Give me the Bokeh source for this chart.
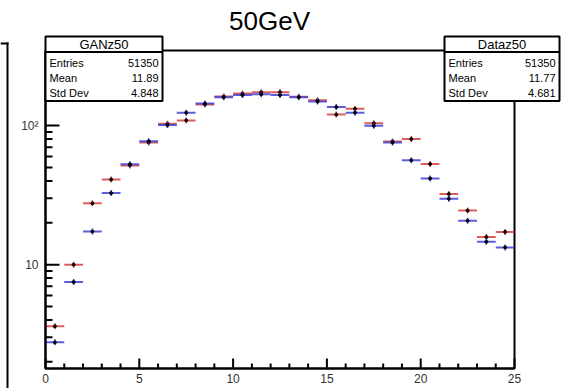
import math
from bokeh.plotting import figure
from bokeh.models import (BoxAnnotation, Label, SingleIntervalTicker, LogTicker,
                          ColumnDataSource, GridBox)
from bokeh.embed import file_html
from bokeh.resources import INLINE

# Bin contents of the two z-profiles (25 unit-width bins from 0 to 25)
bin_low = list(range(25))
gan_counts = [3.6, 10.0, 27.6, 41.0, 51.7, 75.6, 103.0, 109.0, 142.0, 162.0,
              170.0, 174.0, 174.0, 161.0, 152.0, 120.0, 132.0, 104.0, 77.0, 80.0,
              53.0, 32.2, 24.5, 15.8, 17.2]
data_counts = [2.76, 7.5, 17.3, 32.7, 52.8, 77.3, 101.0, 124.0, 144.0, 160.0,
               166.0, 168.0, 166.0, 160.0, 149.0, 136.0, 124.0, 99.7, 75.6, 56.4,
               41.7, 29.8, 20.7, 14.6, 13.3]

# axis tick values
x_major = [0, 5, 10, 15, 20, 25]
x_minor = [v for v in range(26) if v % 5]
y_major = [10, 100]
y_minor = [2, 3, 4, 5, 6, 7, 8, 9, 20, 30, 40, 50, 60, 70, 80, 90, 200, 300]

gan_stats = [("Entries", "51350"), ("Mean", "11.89"), ("Std Dev", "4.848")]
data_stats = [("Entries", "51350"), ("Mean", "11.77"), ("Std Dev", "4.681")]

FONT = "Liberation Sans"
RED = "#d84040"
BLUE = "#4040d8"
X0, X1 = 0, 25
Y0, Y1 = 1.79, 347
W, H = 570, 388
BORDER_L, BORDER_R, BORDER_T, BORDER_B = 45, 56, 50, 20

p = figure(width=W, height=H, y_axis_type="log", x_range=(X0, X1),
           y_range=(Y0, Y1), output_backend="svg", toolbar_location=None,
           title=None, min_border_left=BORDER_L, min_border_right=BORDER_R,
           min_border_top=BORDER_T, min_border_bottom=BORDER_B)
p.frame_align = False
p.background_fill_color = "white"
p.border_fill_color = "white"
p.outline_line_color = "black"
p.outline_line_width = 2
p.xgrid.visible = False
p.ygrid.visible = False


def draw_hist(counts, color):
    src = ColumnDataSource(dict(
        x0=bin_low,
        x1=[b + 1 for b in bin_low],
        xc=[b + 0.5 for b in bin_low],
        y=counts,
    ))
    p.segment(x0="x0", x1="x1", y0="y", y1="y", source=src,
              line_color=color, line_width=2, line_alpha=0.85)
    p.scatter(x="xc", y="y", source=src, marker="dash", angle=1.5708,
              size=6, line_color=color, line_width=1.5)
    p.scatter(x="xc", y="y", source=src, marker="circle", size=3,
              fill_color="black", line_color="black")


draw_hist(gan_counts, RED)
draw_hist(data_counts, BLUE)

xa = p.xaxis[0]
xa.ticker = SingleIntervalTicker(interval=5, num_minor_ticks=5)
ya = p.yaxis[0]
ya.ticker = LogTicker(num_minor_ticks=10)
ya.major_label_overrides = {10: "10", 100: "10\u00b2"}
for ax in (xa, ya):
    ax.axis_line_width = 2
    ax.axis_line_color = "black"
    ax.major_tick_in = 0
    ax.major_tick_out = 0
    ax.minor_tick_in = 0
    ax.minor_tick_out = 0
    ax.major_label_text_font = FONT
    ax.major_label_text_font_size = "12px"
    ax.major_label_text_color = "#333333"
xa.major_label_standoff = 5
ya.major_label_standoff = 7

# transparent overlay spanning the whole canvas: title, stat boxes, inward ticks
ov = figure(width=W, height=H, x_range=(0, W), y_range=(H, 0),
            output_backend="svg", toolbar_location=None, title=None,
            x_axis_location=None, y_axis_location=None,
            min_border=0, min_border_left=0, min_border_right=0,
            min_border_top=0, min_border_bottom=0)
ov.frame_align = False
ov.background_fill_alpha = 0
ov.border_fill_alpha = 0
ov.outline_line_color = None
ov.xgrid.visible = False
ov.ygrid.visible = False


def canvas_box(left, right, top, bottom, **kw):
    ov.add_layout(BoxAnnotation(left=left, right=right, top=top, bottom=bottom,
                                left_units="canvas", right_units="canvas",
                                top_units="canvas", bottom_units="canvas", **kw))


# ROOT-style inward ticks placed with the main frame's linear / log mapping
frame_bottom = H - BORDER_B
px_per_x = (W - BORDER_L - BORDER_R) / (X1 - X0)
px_per_decade = (H - BORDER_T - BORDER_B) / math.log10(Y1 / Y0)


def x_ticks(vals, length):
    for v in vals:
        sx = BORDER_L + (v - X0) * px_per_x
        canvas_box(sx - 1, sx + 1, frame_bottom - length, frame_bottom,
                   fill_color="black", fill_alpha=1, line_alpha=0)


def y_ticks(vals, length):
    for v in vals:
        sy = frame_bottom - math.log10(v / Y0) * px_per_decade
        canvas_box(BORDER_L, BORDER_L + length, sy - 1, sy + 1,
                   fill_color="black", fill_alpha=1, line_alpha=0)


x_ticks(x_major, 10)
x_ticks(x_minor, 5)
y_ticks(y_major, 14)
y_ticks(y_minor, 7)

ov.add_layout(Label(x=269, y=20, x_units="canvas", y_units="canvas",
                    text="50GeV", text_font=FONT, text_font_size="26px",
                    text_align="center", text_baseline="middle",
                    text_color="black"))

# edge of the neighbouring pad
canvas_box(6, 8, 42, H, fill_color="black", fill_alpha=1, line_alpha=0)
canvas_box(0, 8, 42, 44, fill_color="black", fill_alpha=1, line_alpha=0)


def stat_box(left, right, name, rows):
    top, sep, bottom = 36, 51.5, 100.5
    canvas_box(left, right, top, bottom, fill_color="white", fill_alpha=1,
               line_color="black", line_alpha=1, line_width=2)
    canvas_box(left, right, sep - 1, sep + 1, fill_color="black", fill_alpha=1,
               line_alpha=0)
    ov.add_layout(Label(x=(left + right) / 2, y=(top + sep) / 2 + 0.5,
                        x_units="canvas", y_units="canvas", text=name,
                        text_font=FONT, text_font_size="13px",
                        text_align="center", text_baseline="middle",
                        text_color="black"))
    for i, (k, v) in enumerate(rows):
        yc = 62.3 + i * 15.3
        ov.add_layout(Label(x=left + 4, y=yc, x_units="canvas", y_units="canvas",
                            text=k, text_font=FONT, text_font_size="11px",
                            text_align="left", text_baseline="middle",
                            text_color="black"))
        ov.add_layout(Label(x=right - 4, y=yc, x_units="canvas", y_units="canvas",
                            text=v, text_font=FONT, text_font_size="11px",
                            text_align="right", text_baseline="middle",
                            text_color="black"))


stat_box(45, 162, "GANz50", gan_stats)
stat_box(444, 559, "Dataz50", data_stats)

page = GridBox(children=[(p, 0, 0), (ov, 0, 0)])

open("out.html", "w").write(file_html(page, INLINE))
